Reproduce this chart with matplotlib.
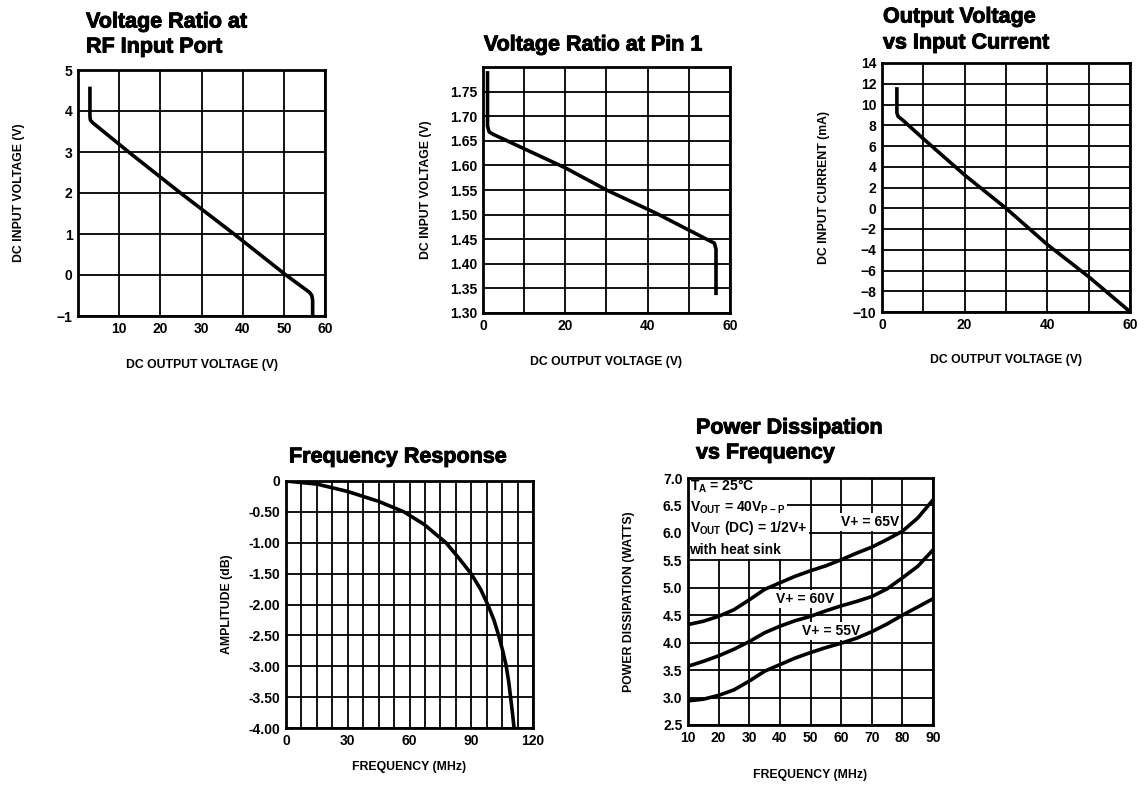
import matplotlib
matplotlib.use("Agg")
import matplotlib.pyplot as plt
import matplotlib.patheffects as pe
from matplotlib.patches import Rectangle
from matplotlib.ticker import MultipleLocator, FixedLocator

plt.rcParams['font.family'] = ['Liberation Sans', 'DejaVu Sans']
plt.rcParams['font.weight'] = 'bold'
plt.rcParams['mathtext.default'] = 'regular'

# --- data ---
# Voltage Ratio at RF Input Port
rf_vout = [2.9, 2.9, 3.0, 3.5, 12.3, 24.9, 37.9, 50.5, 56.2, 56.8, 57.0, 57.0]
rf_vin = [4.55, 3.88, 3.78, 3.72, 3.0, 2.0, 1.0, 0.0, -0.42, -0.5, -0.62, -1.0]

# Voltage Ratio at Pin 1
pin_vout = [1.1, 1.1, 1.5, 2.5, 20.0, 30.0, 42.0, 55.0, 56.2, 56.6, 56.6]
pin_vin = [1.788, 1.68, 1.668, 1.663, 1.595, 1.55, 1.503, 1.447, 1.442, 1.43, 1.34]

# Output Voltage vs Input Current
cur_vout = [3.6, 3.6, 3.9, 5.0, 10.0, 20.0, 30.0, 40.0, 50.0, 59.5]
cur_iin = [11.5, 9.2, 8.85, 8.5, 6.7, 3.2, 0.0, -3.5, -6.6, -9.8]

# Frequency Response
fr_freq = [0, 15, 30, 45, 57.3, 67, 77.7, 84, 89.9, 94.5, 98, 101, 103.3, 105.3,
           107, 108.2, 109.1, 110.0, 110.8]
fr_amp = [0, -0.05, -0.17, -0.33, -0.5, -0.7, -1.0, -1.25, -1.5, -1.75, -2.0, -2.25,
          -2.5, -2.75, -3.0, -3.25, -3.5, -3.75, -4.0]

# Power Dissipation vs Frequency
pd_freq = [10, 15, 20, 25, 30, 35, 40, 45, 50, 55, 60, 65, 70, 75, 80, 85, 90]
pd_65v = [4.33, 4.39, 4.48, 4.60, 4.78, 4.97, 5.09, 5.21, 5.31, 5.40, 5.51, 5.63,
          5.74, 5.88, 6.03, 6.27, 6.6]
pd_60v = [3.57, 3.66, 3.76, 3.88, 4.02, 4.18, 4.30, 4.40, 4.48, 4.58, 4.67, 4.75,
          4.84, 4.98, 5.18, 5.39, 5.69]
pd_55v = [2.94, 2.97, 3.04, 3.14, 3.30, 3.48, 3.60, 3.72, 3.82, 3.91, 3.99, 4.08,
          4.20, 4.34, 4.50, 4.65, 4.80]

W, H = 1146, 785
fig = plt.figure(figsize=(W / 100, H / 100), dpi=100)


def add_ax(left, top, right, bottom):
    return fig.add_axes([left / W, 1 - bottom / H, (right - left) / W, (bottom - top) / H])


def style(ax):
    ax.grid(which='both', color='black', lw=1.3)
    ax.set_axisbelow(True)
    for s in ax.spines.values():
        s.set_linewidth(2)
        s.set_zorder(5)
    ax.tick_params(which='both', length=0, labelsize=10, pad=4)


HEAVY = [pe.withStroke(linewidth=0.7, foreground='black')]


def ftext(x, y, s, **kw):
    fig.text(x / W, 1 - y / H, s, fontsize=15.5, fontweight='bold', va='center',
             path_effects=HEAVY, **kw)


LW = 2.6
LBL = dict(fontsize=8.8, fontweight='bold')

# chart 1
ax1 = add_ax(78, 70, 325, 316)
ax1.plot(rf_vout, rf_vin, color='black', lw=LW)
ax1.set_xlim(0, 60)
ax1.set_ylim(-1, 5)
ax1.xaxis.set_major_locator(FixedLocator([10, 20, 30, 40, 50, 60]))
ax1.xaxis.set_minor_locator(FixedLocator([0]))
ax1.yaxis.set_major_locator(MultipleLocator(1))
ax1.set_xlabel('DC OUTPUT VOLTAGE (V)', **LBL)
ax1.set_ylabel('DC INPUT VOLTAGE (V)', **LBL)
ax1.xaxis.set_label_coords(0.5, -0.175)
ax1.yaxis.set_label_coords(-0.215, 0.5)
style(ax1)
ftext(86, 22, 'Voltage Ratio at')
ftext(86, 47, 'RF Input Port')

# chart 2
ax2 = add_ax(483, 67, 730, 313)
ax2.plot(pin_vout, pin_vin, color='black', lw=LW)
ax2.set_xlim(0, 60)
ax2.set_ylim(1.30, 1.80)
ax2.xaxis.set_major_locator(MultipleLocator(20))
ax2.xaxis.set_minor_locator(MultipleLocator(10))
ax2.yaxis.set_major_locator(FixedLocator([1.30, 1.35, 1.40, 1.45, 1.50, 1.55, 1.60, 1.65, 1.70, 1.75]))
ax2.yaxis.set_minor_locator(FixedLocator([1.80]))
ax2.yaxis.set_major_formatter(lambda v, p: f'{v:.2f}')
ax2.set_xlabel('DC OUTPUT VOLTAGE (V)', **LBL)
ax2.set_ylabel('DC INPUT VOLTAGE (V)', **LBL)
ax2.xaxis.set_label_coords(0.5, -0.175)
ax2.yaxis.set_label_coords(-0.205, 0.5)
style(ax2)
ftext(593, 45, 'Voltage Ratio at Pin 1', ha='center')

# chart 3
ax3 = add_ax(882, 63, 1130, 312)
ax3.plot(cur_vout, cur_iin, color='black', lw=LW)
ax3.set_xlim(0, 60)
ax3.set_ylim(-10, 14)
ax3.xaxis.set_major_locator(MultipleLocator(20))
ax3.xaxis.set_minor_locator(MultipleLocator(10))
ax3.yaxis.set_major_locator(MultipleLocator(2))
ax3.set_xlabel('DC OUTPUT VOLTAGE (V)', **LBL)
ax3.set_ylabel('DC INPUT CURRENT (mA)', **LBL)
ax3.xaxis.set_label_coords(0.5, -0.17)
ax3.yaxis.set_label_coords(-0.21, 0.5)
style(ax3)
ftext(883, 17, 'Output Voltage')
ftext(883, 43, 'vs Input Current')

# chart 4
ax4 = add_ax(286, 481, 533, 728)
ax4.plot(fr_freq, fr_amp, color='black', lw=LW)
ax4.set_xlim(0, 120)
ax4.set_ylim(-4, 0)
ax4.xaxis.set_major_locator(MultipleLocator(30))
ax4.xaxis.set_minor_locator(MultipleLocator(7.5))
ax4.yaxis.set_major_locator(MultipleLocator(0.5))
ax4.yaxis.set_major_formatter(lambda v, p: '0' if abs(v) < 1e-9 else f'{v:.2f}')
ax4.set_xlabel('FREQUENCY (MHz)', **LBL)
ax4.set_ylabel('AMPLITUDE (dB)', **LBL)
ax4.xaxis.set_label_coords(0.5, -0.135)
ax4.yaxis.set_label_coords(-0.215, 0.5)
style(ax4)
ftext(398, 457, 'Frequency Response', ha='center')

# chart 5
ax5 = add_ax(688, 478, 933, 725)
for ys in (pd_65v, pd_60v, pd_55v):
    ax5.plot(pd_freq, ys, color='black', lw=LW, zorder=2.5)
ax5.set_xlim(10, 90)
ax5.set_ylim(2.5, 7.0)
ax5.xaxis.set_major_locator(MultipleLocator(10))
ax5.yaxis.set_major_locator(MultipleLocator(0.5))
ax5.yaxis.set_major_formatter(lambda v, p: f'{v:.1f}')
ax5.set_xlabel('FREQUENCY (MHz)', **LBL)
ax5.set_ylabel('POWER DISSIPATION (WATTS)', **LBL)
ax5.xaxis.set_label_coords(0.5, -0.18)
ax5.yaxis.set_label_coords(-0.216, 0.5)
style(ax5)
ax5.add_patch(Rectangle((10, 5.53), 30.5, 1.47, facecolor='white', edgecolor='none', zorder=1.5))
box = dict(facecolor='white', edgecolor='none', pad=1.5)
notes = [(6.85, 'T$_A$ = 25°C'),
         (6.45, 'V$_{OUT}$ = 40V$_{P-P}$'),
         (6.08, 'V$_{OUT}$ (DC) = 1/2V+'),
         (5.69, 'with heat sink')]
for yv, s in notes:
    ax5.text(10.5, yv, s, fontsize=10, fontweight='bold', va='center', bbox=box, zorder=1.8)
for xv, yv, s in [(69.5, 6.2, 'V+ = 65V'), (48.2, 4.79, 'V+ = 60V'), (56.7, 4.22, 'V+ = 55V')]:
    ax5.text(xv, yv, s, fontsize=10, fontweight='bold', ha='center', va='center', bbox=box, zorder=1.8)
ftext(696, 428, 'Power Dissipation')
ftext(696, 453, 'vs Frequency')

fig.savefig('out.png', dpi=100, facecolor='white')
